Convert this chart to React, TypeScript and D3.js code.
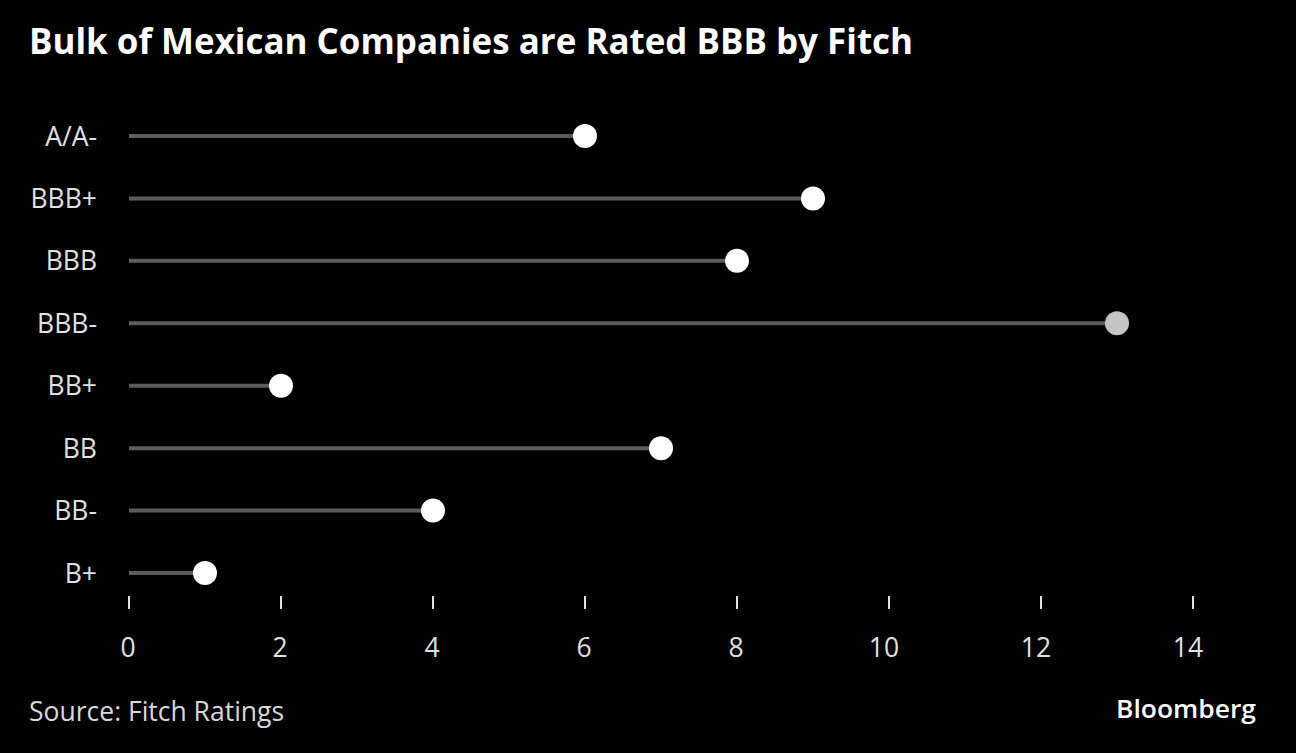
import React from "react";
import * as d3 from "d3";

const categories = ["A/A-", "BBB+", "BBB", "BBB-", "BB+", "BB", "BB-", "B+"];
const values = [6, 9, 8, 13, 2, 7, 4, 1];
const highlighted = ["BBB-"];
const xTicks = [0, 2, 4, 6, 8, 10, 12, 14];

const W = 1296;
const H = 753;

export default function App() {
  const x = d3.scaleLinear().domain([0, 14]).range([129, 1193]);
  const y = d3.scalePoint<string>().domain(categories).range([136, 573]);
  const font = "'Open Sans', 'Noto Sans', sans-serif";
  return (
    <svg width={W} height={H} style={{ position: "absolute", left: 0, top: 0, background: "#000" }}>
      <rect x={0} y={0} width={W} height={H} fill="#000" />
      <text x={29} y={54} fill="#fff" fontFamily={font} fontWeight={700} fontSize={35} textLength={884} lengthAdjust="spacingAndGlyphs">
        Bulk of Mexican Companies are Rated BBB by Fitch
      </text>
      {categories.map((c, i) => (
        <g key={c}>
          <text x={97} y={y(c)!} dy="0.36em" textAnchor="end" fill="#e0e0e0" fontFamily={font} fontSize={26.5}>
            {c}
          </text>
          <line x1={x(0)} x2={x(values[i])} y1={y(c)!} y2={y(c)!} stroke="#5c5c5c" strokeWidth={4} />
          <circle cx={x(values[i])} cy={y(c)!} r={12} fill={highlighted.includes(c) ? "#c4c4c4" : "#fff"} />
        </g>
      ))}
      {xTicks.map((t) => (
        <g key={t}>
          <line x1={x(t)} x2={x(t)} y1={596} y2={609} stroke="#e0e0e0" strokeWidth={2} />
          <text x={x(t) - (t >= 10 ? 5 : 1)} y={647} dy="0.36em" textAnchor="middle" fill="#e0e0e0" fontFamily={font} fontSize={26.5}>
            {t}
          </text>
        </g>
      ))}
      <text x={29} y={721} fill="#d8d8d8" fontFamily={font} fontSize={26.5}>
        Source: Fitch Ratings
      </text>
      <text x={1256} y={718} textAnchor="end" fill="#fff" fontFamily={font} fontWeight={600} fontSize={26} textLength={140} lengthAdjust="spacingAndGlyphs">
        Bloomberg
      </text>
    </svg>
  );
}
